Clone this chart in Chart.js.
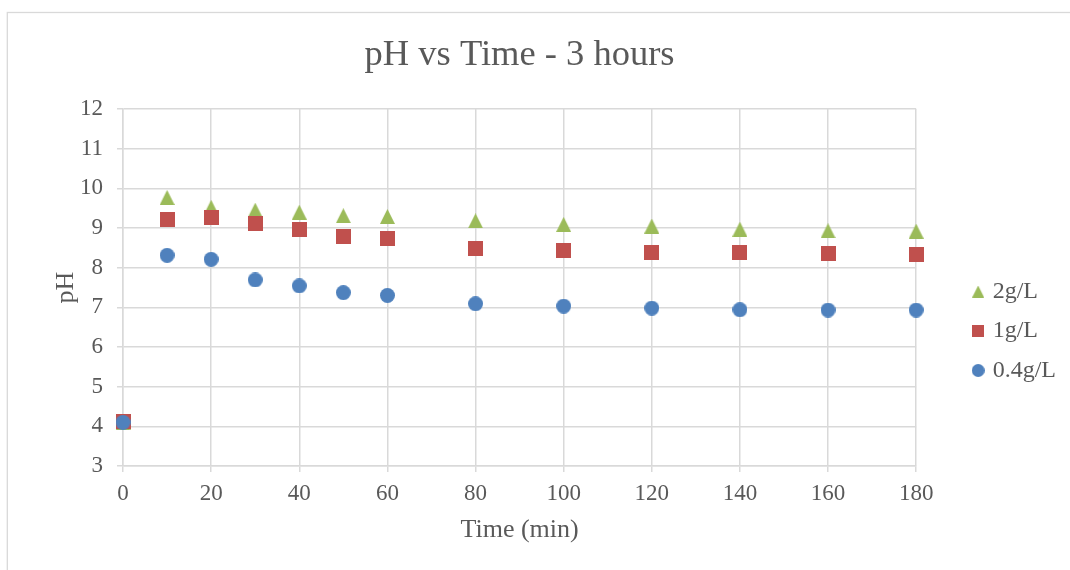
<!DOCTYPE html>
<html>
<head>
<meta charset="utf-8">
<script src="https://cdn.jsdelivr.net/npm/chart.js@4.4.1/dist/chart.umd.min.js"></script>
<style>
  html, body { margin: 0; padding: 0; background: #ffffff; }
  #wrap { width: 1070px; height: 570px; position: relative; }
</style>
</head>
<body>
<div id="wrap"><canvas id="chart" width="1070" height="570"></canvas></div>
<script>
// Sampling times (min)
const times = [0, 10, 20, 30, 40, 50, 60, 80, 100, 120, 140, 160, 180];
// Measured pH per dose
const ph04 = [4.10, 8.31, 8.21, 7.69, 7.54, 7.37, 7.30, 7.09, 7.03, 6.98, 6.94, 6.93, 6.93];
const ph1  = [4.12, 9.21, 9.27, 9.12, 8.97, 8.79, 8.74, 8.48, 8.44, 8.39, 8.37, 8.35, 8.34];
const ph2  = [4.10, 9.77, 9.52, 9.45, 9.40, 9.31, 9.29, 9.18, 9.09, 9.05, 8.97, 8.93, 8.92];
const seriesNames = ['0.4g/L', '1g/L', '2g/L'];
const xRange = [0, 180];
const xStep = 20;
const yRange = [3, 12];
const yStep = 1;

const BLUE = '#4f81bd', RED = '#c0504d', GREEN = '#9bbb59';
const TEXT = '#595959', GRID = '#d9d9d9';
const SERIF = "'Liberation Serif', 'Times New Roman', serif";

// Marker sprites, drawn centred on their bounding box
function marker(kind, size, color) {
  const c = document.createElement('canvas');
  c.width = size; c.height = size;
  const g = c.getContext('2d');
  g.fillStyle = color;
  g.beginPath();
  if (kind === 'circle') {
    g.arc(size / 2, size / 2, size / 2, 0, Math.PI * 2);
  } else if (kind === 'square') {
    g.rect(0, 0, size, size);
  } else {
    g.moveTo(size / 2, 0);
    g.lineTo(size, size);
    g.lineTo(0, size);
    g.closePath();
  }
  g.fill();
  return c;
}

const plotMarks = [marker('circle', 15, BLUE), marker('square', 15, RED), marker('triangle', 15, GREEN)];
const legendMarks = [marker('circle', 13, BLUE), marker('square', 12, RED), marker('triangle', 12, GREEN)];
const colors = [BLUE, RED, GREEN];
const values = [ph04, ph1, ph2];

// Index 0 is painted last, so the circles sit on top
const datasets = values.map((vals, i) => ({
  label: seriesNames[i],
  data: times.map((t, k) => ({ x: t, y: vals[k] })),
  showLine: false,
  clip: false,
  pointStyle: plotMarks[i],
  backgroundColor: colors[i],
  borderColor: colors[i],
  pointRadius: 8,
  pointHoverRadius: 8
}));

// Light frame around the chart
const frame = {
  id: 'frame',
  beforeDraw(chart) {
    const ctx = chart.ctx;
    ctx.save();
    ctx.fillStyle = '#ffffff';
    ctx.fillRect(0, 0, chart.width, chart.height);
    ctx.strokeStyle = GRID;
    ctx.lineWidth = 1.3;
    ctx.strokeRect(7.3, 12.5, chart.width + 20, chart.height + 20);
    ctx.restore();
  }
};

new Chart(document.getElementById('chart'), {
  type: 'scatter',
  data: { datasets },
  plugins: [frame],
  options: {
    responsive: false,
    animation: false,
    devicePixelRatio: 1,
    layout: { padding: { left: 0, right: 4, top: 0, bottom: 0 } },
    plugins: {
      tooltip: { enabled: false },
      title: {
        display: true,
        fullSize: false,
        text: 'pH vs Time - 3 hours',
        color: TEXT,
        font: { family: SERIF, size: 36.5, weight: 'normal' },
        padding: { top: 33.6, bottom: 31.6 }
      },
      legend: {
        position: 'right',
        align: 'center',
        title: { display: true, text: '', padding: { top: 80, bottom: 0 }, font: { size: 10 } },
        labels: {
          usePointStyle: true,
          pointStyleWidth: 5,
          padding: 15.5,
          color: TEXT,
          font: { family: SERIF, size: 24 },
          generateLabels(chart) {
            return chart.data.datasets.map((ds, i) => ({
              text: ds.label,
              pointStyle: legendMarks[i],
              fillStyle: ds.backgroundColor,
              strokeStyle: ds.backgroundColor,
              lineWidth: 0,
              fontColor: TEXT,
              hidden: false,
              datasetIndex: i
            })).reverse();
          }
        }
      }
    },
    scales: {
      x: {
        type: 'linear',
        min: xRange[0],
        max: xRange[1],
        ticks: { stepSize: xStep, color: TEXT, font: { family: SERIF, size: 23 }, padding: 8, maxRotation: 0 },
        grid: { color: GRID, lineWidth: 1.5, tickLength: 6 },
        border: { color: GRID, width: 1.5 },
        title: {
          display: true, text: 'Time (min)', color: TEXT,
          font: { family: SERIF, size: 26 },
          padding: { top: 0, bottom: 24 }
        },
        afterFit(scale) { scale.height = 104; }
      },
      y: {
        type: 'linear',
        min: yRange[0],
        max: yRange[1],
        ticks: { stepSize: yStep, color: TEXT, font: { family: SERIF, size: 23 }, padding: 14 },
        grid: { color: GRID, lineWidth: 1.5, tickLength: 6 },
        border: { color: GRID, width: 1.5 },
        title: {
          display: true, text: 'pH', color: TEXT,
          font: { family: SERIF, size: 26 },
          padding: { top: 51, bottom: 0 }
        },
        afterFit(scale) { scale.width = 123; }
      },
      gap: {
        type: 'linear',
        position: 'right',
        axis: 'y',
        display: true,
        ticks: { display: false },
        grid: { display: false, drawTicks: false },
        border: { display: false },
        afterFit(scale) { scale.width = 44; }
      }
    }
  }
});
</script>
</body>
</html>
